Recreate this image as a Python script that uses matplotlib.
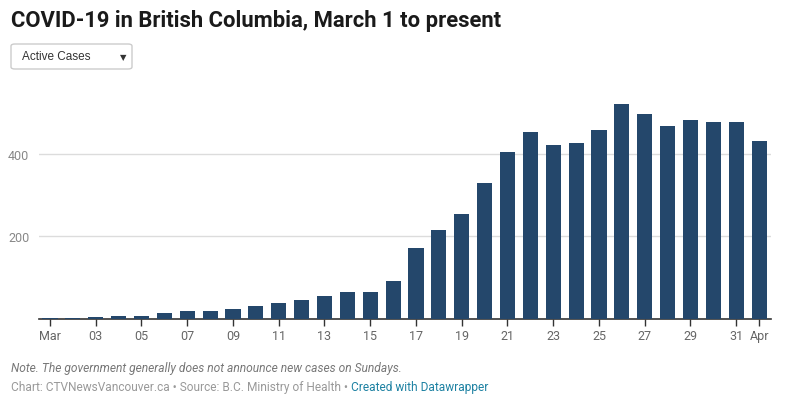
import matplotlib.pyplot as plt
from matplotlib.patches import FancyBboxPatch

days = list(range(1, 32)) + [1]
tick_labels = ["Mar", "03", "05", "07", "09", "11", "13", "15", "17", "19",
               "21", "23", "25", "27", "29", "31", "Apr"]
tick_pos = list(range(0, 31, 2)) + [31]
active_cases = [3, 3, 5, 7, 7, 15, 19, 19, 24, 31, 39, 46, 56, 65, 65, 92,
                172, 215, 254, 329, 404, 452, 421, 426, 457, 520, 496, 467,
                481, 476, 476, 430]

plt.rcParams["font.family"] = ["Roboto", "DejaVu Sans"]

W, H = 787, 410
fig = plt.figure(figsize=(W / 100, H / 100), dpi=100)
ax = fig.add_axes([39 / W, 90 / H, (771 - 39) / W, 230 / H])

x = list(range(len(active_cases)))
ax.bar(x, active_cases, width=0.66, color="#24476b", zorder=3)
ax.set_xlim(-0.48, 31.52)
ax.set_ylim(0, 556)

ax.set_yticks([200, 400])
ax.set_yticklabels(["200", "400"])
for v in [200, 400]:
    ax.axhline(v, color="#dcdcdc", lw=1, zorder=1)
ax.tick_params(axis="y", length=0, pad=7, labelsize=9, labelcolor="#888888")

ax.set_xticks(tick_pos)
ax.set_xticklabels(tick_labels)
ax.tick_params(axis="x", length=5, width=1, color="#333333", pad=2,
               labelsize=9, labelcolor="#666666")

for s in ["top", "right", "left"]:
    ax.spines[s].set_visible(False)
ax.spines["bottom"].set_color("#333333")
ax.spines["bottom"].set_linewidth(1.2)

fig.text(11 / W, 1 - 21 / H, "COVID-19 in British Columbia, March 1 to present",
         fontsize=15.8, fontweight="bold", color="#1a1a1a", va="center")

box = FancyBboxPatch((11 / W, 1 - 70 / H), 121 / W, 25 / H,
                     boxstyle="round,pad=0,rounding_size=0.005",
                     transform=fig.transFigure, facecolor="white",
                     edgecolor="#cccccc", lw=1)
fig.patches.append(box)
fig.text(22 / W, 1 - 57.5 / H, "Active Cases", fontsize=8.5, color="#333333",
         va="center", family=["Liberation Sans", "DejaVu Sans"])
fig.text(123 / W, 1 - 57.5 / H, "\u25bc", fontsize=6, color="#333333",
         va="center", ha="center", family="DejaVu Sans")

fig.text(11 / W, 1 - 369 / H,
         "Note. The government generally does not announce new cases on Sundays.",
         fontsize=8.65, style="italic", color="#777777", va="center")
t1 = fig.text(11 / W, 1 - 388 / H,
              "Chart: CTVNewsVancouver.ca \u2022 Source: B.C. Ministry of Health \u2022 ",
              fontsize=8.6, color="#999999", va="center")
fig.canvas.draw()
bb = t1.get_window_extent()
fig.text(bb.x1 / W, 1 - 388 / H, "Created with Datawrapper",
         fontsize=8.6, color="#1d81a2", va="center")

fig.savefig("out.png", dpi=100)
